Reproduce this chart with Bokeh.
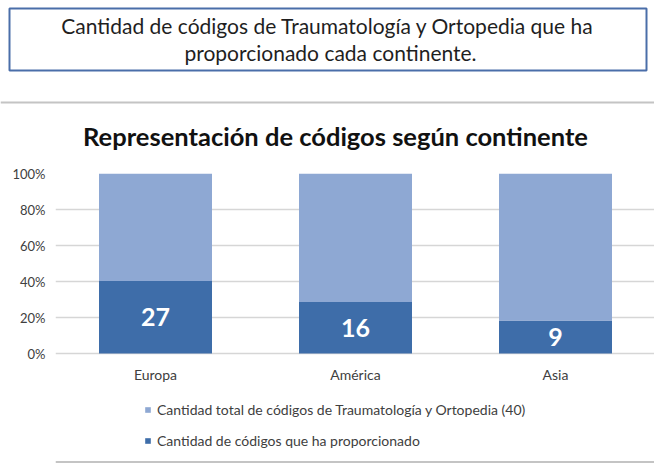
from bokeh.plotting import figure
from bokeh.models import (Range1d, FixedTicker, NumeralTickFormatter, Label, Span,
                          Legend, LegendItem, ColumnDataSource)
from bokeh.core.properties import value
from bokeh.embed import file_html
from bokeh.resources import INLINE

# ---------------- data ----------------
continents = ["Europa", "América", "Asia"]
provided = [27, 16, 9]            # Cantidad de códigos que ha proporcionado
total_codes = [40, 40, 40]        # Cantidad total de códigos (40)
y_ticks = [0, 0.2, 0.4, 0.6, 0.8, 1.0]

header_lines = ["Cantidad de códigos de Traumatología y Ortopedia  que ha",
                "proporcionado cada continente."]
title_text = "Representación de códigos según continente"
legend_labels = ["Cantidad total de códigos de Traumatología y Ortopedia (40)",
                 "Cantidad de códigos que ha proporcionado"]

# ---------------- style ----------------
LIGHT = "#8EA8D3"
DARK = "#3E6DA9"
FONT = "Lato"
W = 654
HEAD_H = 155          # header figure height (page px)
FRAME_L = 55
FRAME_TOP = 173       # page y of 100 %
ZERO_Y = 353          # page y of 0 %
CHART_BOTTOM = 464    # page y where the chart figure ends
BOTTOM_LINE_Y = 461.5

# ======== header figure (box, frame line, title) ========
fa = figure(width=W, height=HEAD_H, output_backend="svg", toolbar_location=None,
            x_range=Range1d(0, W), y_range=Range1d(HEAD_H, 0),
            x_axis_location=None, y_axis_location=None, min_border=0)
fa.outline_line_color = None
fa.grid.visible = False
fa.border_fill_color = "white"

fa.quad(left=[9], right=[646], top=[8], bottom=[70], fill_color="white",
        line_color="#4A6EA9", line_width=2)
fa.segment(x0=[0], x1=[W], y0=[102], y1=[102], line_color="#C4C4C4", line_width=2)

for txt, py in zip(header_lines, [25, 52]):
    fa.add_layout(Label(x=330, y=py, text=txt, text_align="center", text_baseline="middle",
                        text_font=FONT, text_font_size="21px", text_color="#1F1F1F"))

fa.add_layout(Label(x=335, y=135, text=title_text, text_align="center",
                    text_baseline="middle", text_font=FONT, text_font_size="25.5px",
                    text_font_style="bold", text_color="#111111"))

# ======== chart figure ========
xs = [i + 1 for i in range(len(continents))]
totals = [p + t for p, t in zip(provided, total_codes)]
dark_frac = [p / s for p, s in zip(provided, totals)]
src = ColumnDataSource(dict(
    x=xs,
    zero=[0.0] * len(xs),
    one=[1.0] * len(xs),
    dark=dark_frac,
    mid=[d / 2 for d in dark_frac],
    label=[str(v) for v in provided],
))

fw = W - FRAME_L
px_per_unit = ZERO_Y - FRAME_TOP
fh = CHART_BOTTOM - FRAME_TOP
p = figure(frame_width=fw, frame_height=fh, output_backend="svg",
           toolbar_location=None,
           x_range=Range1d(0.5, 0.5 + fw / 200),
           y_range=Range1d(-(CHART_BOTTOM - ZERO_Y) / px_per_unit, 1),
           min_border_left=FRAME_L, min_border_right=0,
           min_border_top=FRAME_TOP - HEAD_H, min_border_bottom=0)
p.outline_line_color = None
p.background_fill_color = "white"
p.border_fill_color = "white"

r_dark = p.vbar(x="x", bottom="zero", top="dark", width=0.565, source=src,
                fill_color=DARK, line_color=None)
r_light = p.vbar(x="x", bottom="dark", top="one", width=0.565, source=src,
                 fill_color=LIGHT, line_color=None)

p.text(x="x", y="mid", text="label", source=src, text_color="white",
       text_font=value(FONT), text_font_size="25px", text_font_style="bold",
       text_align="center", text_baseline="middle")

# bottom edge of the chart area
p.add_layout(Span(location=-(BOTTOM_LINE_Y - ZERO_Y) / px_per_unit, dimension="width",
                  line_color="#C4C4C4", line_width=2))

p.xgrid.visible = False
p.ygrid.ticker = FixedTicker(ticks=y_ticks)
p.ygrid.grid_line_color = "#D6D6D6"
p.ygrid.grid_line_width = 1.5

p.yaxis.ticker = FixedTicker(ticks=y_ticks)
p.yaxis.formatter = NumeralTickFormatter(format="0%")
p.xaxis.ticker = FixedTicker(ticks=xs)
p.xaxis.major_label_overrides = {x: c for x, c in zip(xs, continents)}
p.xaxis.fixed_location = 0
for ax in (p.xaxis, p.yaxis):
    ax.axis_line_color = None
    ax.major_tick_line_color = None
    ax.minor_tick_line_color = None
    ax.major_tick_out = 0
    ax.major_tick_in = 0
    ax.minor_tick_out = 0
    ax.major_label_text_font = FONT
    ax.major_label_text_color = "#404040"
p.yaxis.major_label_text_font_size = "13px"
p.yaxis.major_label_standoff = 10
p.xaxis.major_label_text_font_size = "14px"
p.xaxis.major_label_standoff = 12

legend = Legend(items=[LegendItem(label=legend_labels[0], renderers=[r_light]),
                       LegendItem(label=legend_labels[1], renderers=[r_dark])],
                location=(89, CHART_BOTTOM - 450), orientation="vertical",
                glyph_width=7, glyph_height=7, label_height=20,
                spacing=11, label_standoff=6, padding=0, margin=0,
                border_line_color=None, background_fill_alpha=0,
                label_text_font=FONT, label_text_font_size="14px",
                label_text_color="#404040")
p.add_layout(legend)

with open("out.html", "w") as f:
    f.write(file_html([fa, p], INLINE))
